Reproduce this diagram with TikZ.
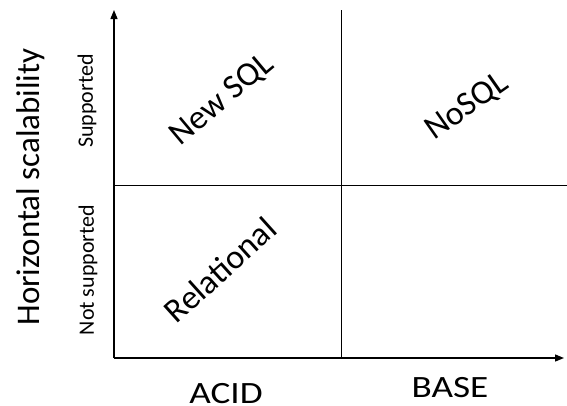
\documentclass[tikz,border=0pt]{standalone}
\usepackage{fontspec}
\setmainfont{Carlito}
\usetikzlibrary{arrows.meta}
\begin{document}
\begin{tikzpicture}[x=1pt,y=-1pt,
  axis/.style={line width=1.3pt,-{Triangle[length=9pt,width=7pt]}},
  divider/.style={line width=1pt},
  big/.style={font=\fontsize{33}{36}\selectfont},
  axlabel/.style={font=\fontsize{31}{34}\selectfont,xscale=1.2,inner sep=0pt},
  small/.style={font=\fontsize{22}{24}\selectfont},
  quad/.style={font=\fontsize{34}{37}\selectfont}]
\useasboundingbox (0,0) rectangle (567,405);
\coordinate (o) at (114,358);
\coordinate (ytip) at (114,10);
\coordinate (xtip) at (564,358);
\coordinate (vtop) at (341,10);
\coordinate (vbot) at (341,358);
\coordinate (hl) at (114,185);
\coordinate (hr) at (567,185);
\draw[axis] (o) -- (ytip);
\draw[axis] (o) -- (xtip);
\draw[divider] (vtop) -- (vbot);
\draw[divider] (hl) -- (hr);
\node[big,rotate=90] (hs) at (31,187) {Horizontal scalability};
\node[small,rotate=90] (sup) at (87,101) {Supported};
\node[small,rotate=90] (nsup) at (88,270) {Not supported};
\node[quad,rotate=40] (newsql) at (222,100) {New SQL};
\node[quad,rotate=35] (nosql) at (467,107) {NoSQL};
\node[quad,rotate=42] (rel) at (220,270) {Relational};
\node[axlabel,anchor=north] (acid) at (226,383) {ACID};
\node[axlabel,anchor=north] (base) at (450,377) {BASE};
\end{tikzpicture}
\end{document}
